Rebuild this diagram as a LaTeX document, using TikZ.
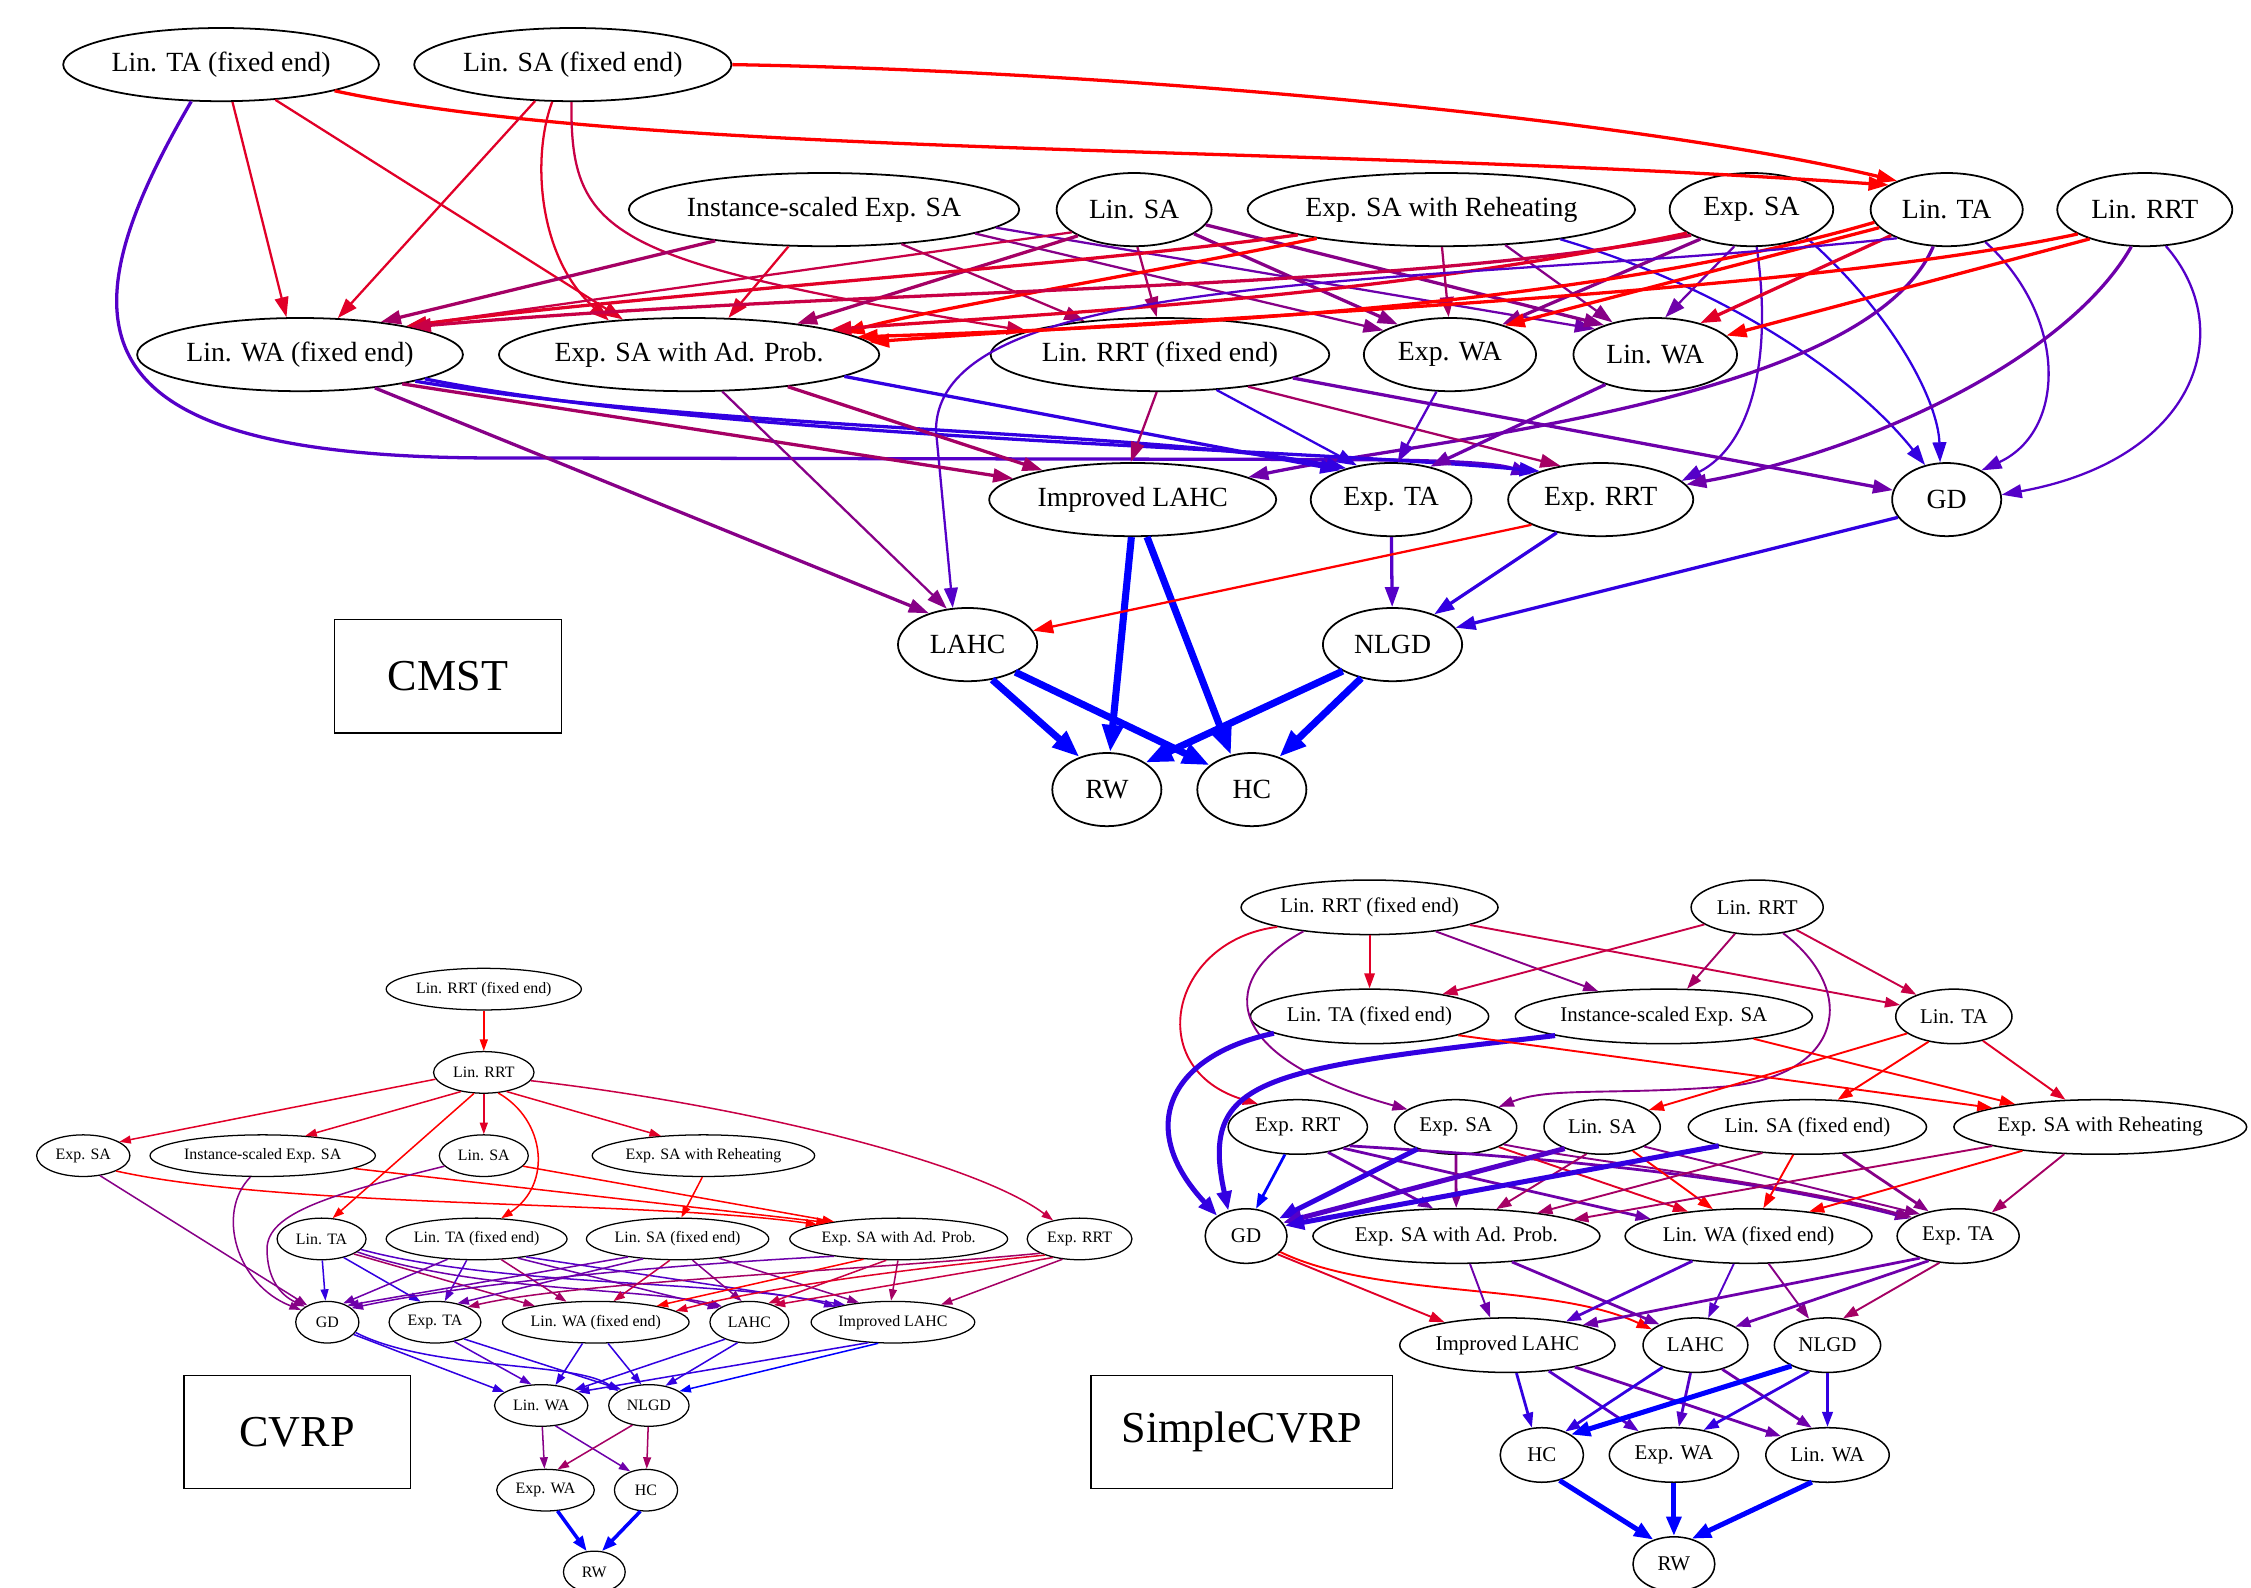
\documentclass[tikz,border=0pt]{standalone}
\usepackage{fontspec}
\setmainfont{Liberation Serif}
\usetikzlibrary{shapes.geometric, arrows.meta}
\definecolor{rb0}{RGB}{255,0,0}
\definecolor{rb1}{RGB}{225,0,40}
\definecolor{rb2}{RGB}{200,0,70}
\definecolor{rb3}{RGB}{165,0,100}
\definecolor{rb4}{RGB}{135,0,135}
\definecolor{rb5}{RGB}{110,0,170}
\definecolor{rb6}{RGB}{85,0,200}
\definecolor{rb7}{RGB}{50,0,225}
\definecolor{rb8}{RGB}{0,0,255}
\tikzset{ gv/.style = { ellipse % graph node
        , draw
        , inner sep = 0pt
        }
      , wd/.style = { minimum width = #1*0.2mm }
      , ht/.style = { minimum height = #1*0.2mm }
      , lbl/.style = { rectangle % graph name
        , draw
        , line width = 0.6pt
        , inner sep = 0pt
        , font = \fontsize{17.5}{20}\selectfont
        }
}
\begin{document}
\begin{tikzpicture}[x=0.02cm, y=-0.02cm,
        ed/.style={-{Triangle[length=2.8mm,width=1.9mm]}, line width=0.9pt},
        em/.style={ed, line width=1.3pt},
        ek/.style={-{Triangle[length=3.8mm,width=2.8mm]}, line width=2.8pt},
        ved/.style={-{Triangle[length=1.6mm,width=1.1mm]}, line width=0.6pt},
        vek/.style={-{Triangle[length=2.1mm,width=1.5mm]}, line width=1.4pt},
        sed/.style={-{Triangle[length=2.1mm,width=1.45mm]}, line width=0.75pt},
        sem/.style={sed, line width=1.1pt},
        sek/.style={-{Triangle[length=2.7mm,width=2mm]}, line width=2pt}]
    \path[use as bounding box, fill=white] (0,0) rectangle (1568,1106);

    % CMST
    \begin{scope}[font=\fontsize{11}{13}\selectfont, gv/.append style={ht=51, line width=0.7pt}]
        \node [gv, wd=220] (tafe) at (154,45) {Lin. TA (fixed end)};
        \node [gv, wd=221] (safe) at (399,45) {Lin. SA (fixed end)};
        \node [gv, wd=272] (ise) at (574,146) {Instance-scaled Exp. SA};
        \node [gv, wd=108] (lsa) at (790,146) {Lin. SA};
        \node [gv, wd=270] (eswr) at (1004,146) {Exp. SA with Reheating};
        \node [gv, wd=114] (esa) at (1220,146) {Exp. SA};
        \node [gv, wd=106] (lta) at (1356,146) {Lin. TA};
        \node [gv, wd=122] (lrrt) at (1494,146) {Lin. RRT};
        \node [gv, wd=227] (lwafe) at (209,247) {Lin. WA (fixed end)};
        \node [gv, wd=263] (esap) at (480,247) {Exp. SA with Ad. Prob.};
        \node [gv, wd=236] (lrrtfe) at (808,247) {Lin. RRT (fixed end)};
        \node [gv, wd=120] (ewa) at (1010,247) {Exp. WA};
        \node [gv, wd=114] (lwa) at (1153,247) {Lin. WA};
        \node [gv, wd=200] (ilahc) at (789,348) {Improved LAHC};
        \node [gv, wd=112] (eta) at (969,348) {Exp. TA};
        \node [gv, wd=129] (errt) at (1115,348) {Exp. RRT};
        \node [gv, wd=76] (gd) at (1356,348) {GD};
        \node [gv, wd=97] (lahc) at (674,449) {LAHC};
        \node [gv, wd=97] (nlgd) at (970,449) {NLGD};
        \node [gv, wd=76] (rw) at (771,550) {RW};
        \node [gv, wd=76] (hc) at (872,550) {HC};
        \node [lbl, wd=158, ht=79] (cmst) at (312,471) {CMST};

        \draw [ed, rb1] (tafe.-73) -- (lwafe.110);
        \draw [ed, rb1] (tafe.-33) -- (esap.152);
        \draw [em, rb0] (tafe.-13) .. controls (450,110) and (900,100) .. (lta.157);
        \draw [em, rb6] (tafe.-129) .. controls (40,230) and (50,320) .. (350,319) -- (900,320) .. controls (1000,320) and (1040,322) .. (errt.160);
        \draw [em, rb0] (safe.0) .. controls (800,50) and (1150,85) .. (lta.150);
        \draw [ed, rb1] (safe.-136) -- (lwafe.44);
        \draw [ed, rb1] (safe.-119) .. controls (370,110) and (375,180) .. (esap.157);
        \draw [ed, rb2] (safe.-92) .. controls (397,165) and (425,182) .. (lrrtfe.170);
        \draw [em, rb3] (ise.-164) -- (lwafe.22);
        \draw [ed, rb1] (ise.-134) -- (esap.43);
        \draw [ed, rb3] (ise.-24) -- (lrrtfe.156);
        \draw [ed, rb4] (ise.-9) -- (ewa.160);
        \draw [ed, rb5] (ise.-6) -- (lwa.157);
        \draw [ed, rb2] (lsa.-160) -- (lwafe.15);
        \draw [em, rb3] (lsa.-155) -- (esap.16);
        \draw [ed, rb3] (lsa.-85) -- (lrrtfe.95);
        \draw [em, rb4] (lsa.-22) -- (ewa.150);
        \draw [em, rb4] (lsa.-12) -- (lwa.150);
        \draw [ed, rb3] (eswr.-89) -- (ewa.92);
        \draw [ed, rb4] (eswr.-29) -- (lwa.143);
        \draw [ed, rb7] (eswr.-14) .. controls (1200,200) and (1290,260) .. (gd.122);
        \draw [em, rb1] (eswr.-170) .. controls (750,185) and (450,205) .. (lwafe.15);
        \draw [em, rb0] (eswr.-167) .. controls (800,190) and (650,215) .. (esap.8);
        \draw [em, rb2] (esa.-157) .. controls (950,205) and (600,200) .. (lwafe.14);
        \draw [em, rb1] (esa.-160) .. controls (950,210) and (700,220) .. (esap.10);
        \draw [em, rb4] (esa.-150) -- (ewa.30);
        \draw [ed, rb5] (esa.-115) -- (lwa.75);
        \draw [ed, rb7] (esa.-27) .. controls (1320,220) and (1350,280) .. (gd.100);
        \draw [ed, rb6] (esa.-82) .. controls (1235,250) and (1220,310) .. (errt.13);
        \draw [em, rb0] (lta.-165) -- (ewa.28);
        \draw [em, rb1] (lta.-155) -- (lwa.35);
        \draw [em, rb0] (lta.-170) .. controls (1100,215) and (800,228) .. (esap.6);
        \draw [ed, rb6] (lta.-40) .. controls (1440,220) and (1440,300) .. (gd.40);
        \draw [em, rb5] (lta.-110) .. controls (1300,280) and (1000,305) .. (ilahc.11);
        \draw [ed, rb6] (lta.-150) .. controls (1000,200) and (652,185) .. (652,300) -- (lahc.112);
        \draw [em, rb0] (lrrt.-152) -- (lwa.15);
        \draw [em, rb0] (lrrt.-160) .. controls (1250,205) and (850,220) .. (esap.4);
        \draw [em, rb5] (lrrt.-110) .. controls (1440,250) and (1300,315) .. (errt.10);
        \draw [ed, rb6] (lrrt.-60) .. controls (1560,230) and (1530,320) .. (gd.5);
        \draw [em, rb4] (lwafe.-24) -- (lahc.141);
        \draw [em, rb3] (lwafe.-16) -- (ilahc.170);
        \draw [em, rb7] (lwafe.-13) .. controls (500,300) and (800,300) .. (eta.145);
        \draw [em, rb7] (lwafe.-11) .. controls (500,305) and (900,312) .. (errt.155);
        \draw [ed, rb4] (esap.-48) -- (lahc.120);
        \draw [em, rb3] (esap.-18) -- (ilahc.162);
        \draw [em, rb7] (esap.-8) -- (eta.150);
        \draw [ed, rb3] (lrrtfe.-95) -- (ilahc.93);
        \draw [ed, rb7] (lrrtfe.-32) -- (eta.135);
        \draw [ed, rb3] (lrrtfe.-20) -- (errt.140);
        \draw [em, rb5] (lrrtfe.-10) -- (gd.170);
        \draw [ed, rb6] (ewa.-110) -- (eta.80);
        \draw [em, rb5] (lwa.-149) -- (eta.40);
        \draw [ek, rb8] (ilahc.-92) -- (rw.85);
        \draw [ek, rb8] (ilahc.-69) -- (hc.121);
        \draw [em, rb6] (eta) -- (nlgd);
        \draw [ed, rb0] (errt.-160) -- (lahc.12);
        \draw [em, rb7] (errt.-143) -- (nlgd.36);
        \draw [em, rb7] (gd.-160) -- (nlgd.15);
        \draw [ek, rb8] (lahc.-55) -- (rw.130);
        \draw [ek, rb8] (lahc.-30) -- (hc.150);
        \draw [ek, rb8] (nlgd.-152) -- (rw.35);
        \draw [ek, rb8] (nlgd.-133) -- (hc.50);
    \end{scope}

    % CVRP
    \begin{scope}[font=\fontsize{6.3}{7.5}\selectfont, gv/.append style={ht=29, line width=0.5pt}]
        \node [gv, wd=136] (vlrfe) at (337,689) {Lin. RRT (fixed end)};
        \node [gv, wd=70] (vlr) at (337,747) {Lin. RRT};
        \node [gv, wd=65] (vesa) at (58,805) {Exp. SA};
        \node [gv, wd=157] (vise) at (183,805) {Instance-scaled Exp. SA};
        \node [gv, wd=62] (vlsa) at (337,805) {Lin. SA};
        \node [gv, wd=155] (veswr) at (490,805) {Exp. SA with Reheating};
        \node [gv, wd=62] (vlta) at (224,863) {Lin. TA};
        \node [gv, wd=126] (vtafe) at (332,863) {Lin. TA (fixed end)};
        \node [gv, wd=127] (vsafe) at (472,863) {Lin. SA (fixed end)};
        \node [gv, wd=151] (vesap) at (626,863) {Exp. SA with Ad. Prob.};
        \node [gv, wd=73] (verrt) at (752,863) {Exp. RRT};
        \node [gv, wd=44] (vgd) at (228,921) {GD};
        \node [gv, wd=64] (veta) at (303,921) {Exp. TA};
        \node [gv, wd=130] (vlwafe) at (415,921) {Lin. WA (fixed end)};
        \node [gv, wd=55] (vlahc) at (522,921) {LAHC};
        \node [gv, wd=114] (vilahc) at (622,921) {Improved LAHC};
        \node [gv, wd=65] (vlwa) at (377,979) {Lin. WA};
        \node [gv, wd=56] (vnlgd) at (452,979) {NLGD};
        \node [gv, wd=68] (vewa) at (380,1038) {Exp. WA};
        \node [gv, wd=44] (vhc) at (450,1038) {HC};
        \node [gv, wd=43] (vrw) at (414,1095) {RW};
        \node [lbl, wd=158, ht=79] (cvrp) at (207,997.5) {CVRP};

        \draw [ved, rb0] (vlrfe) -- (vlr);
        \draw [ved, rb1] (vlr.-172) -- (vesa.21);
        \draw [ved, rb1] (vlr.-140) -- (vise.25);
        \draw [ved, rb1] (vlr) -- (vlsa);
        \draw [ved, rb1] (vlr.-40) -- (veswr.155);
        \draw [ved, rb0] (vlr.-115) -- (vlta.62);
        \draw [ved, rb0] (vlr.-55) .. controls (380,780) and (385,825) .. (vtafe.40);
        \draw [ved, rb2] (vlr.-10) .. controls (520,770) and (680,810) .. (verrt.145);
        \draw [ved, rb4] (vesa.-50) -- (vgd.140);
        \draw [ved, rb0] (vesa.-25) .. controls (200,842) and (450,836) .. (vesap.170);
        \draw [ved, rb4] (vise.-120) .. controls (150,845) and (165,895) .. (vgd.155);
        \draw [ved, rb0] (vise.-8) -- (vesap.167);
        \draw [ved, rb4] (vlsa.-165) .. controls (230,832) and (186,845) .. (186,870) .. controls (186,890) and (195,902) .. (vgd.145);
        \draw [ved, rb0] (vlsa.-15) -- (vesap.165);
        \draw [ved, rb0] (veswr.-93) -- (vsafe.80);
        \draw [ved, rb7] (vlta.-88) -- (vgd.95);
        \draw [ved, rb7] (vlta.-40) -- (veta.125);
        \draw [ved, rb3] (vlta.-25) -- (vlwafe.165);
        \draw [ved, rb5] (vlta.-20) .. controls (330,900) and (450,897) .. (vlahc.150);
        \draw [ved, rb6] (vlta.-15) .. controls (350,897) and (520,892) .. (vilahc.165);
        \draw [ved, rb5] (vtafe.-145) -- (vgd.50);
        \draw [ved, rb6] (vtafe.-115) -- (veta.65);
        \draw [ved, rb3] (vtafe.-40) -- (vlwafe.145);
        \draw [ved, rb5] (vtafe.-25) -- (vlahc.155);
        \draw [ved, rb6] (vtafe.-20) -- (vilahc.160);
        \draw [ved, rb5] (vsafe.-160) -- (vgd.40);
        \draw [ved, rb5] (vsafe.-150) -- (veta.40);
        \draw [ved, rb2] (vsafe.-110) -- (vlwafe.50);
        \draw [ved, rb4] (vsafe.-55) -- (vlahc.110);
        \draw [ved, rb4] (vsafe.-25) -- (vilahc.150);
        \draw [ved, rb5] (vesap.-165) .. controls (480,880) and (330,893) .. (vgd.30);
        \draw [ved, rb0] (vesap.-150) -- (vlwafe.15);
        \draw [ved, rb2] (vesap.-120) -- (vlahc.45);
        \draw [ved, rb3] (vesap.-92) -- (vilahc.95);
        \draw [ved, rb3] (verrt.-160) .. controls (600,885) and (400,893) .. (veta.25);
        \draw [ved, rb1] (verrt.-155) .. controls (650,882) and (540,895) .. (vlwafe.8);
        \draw [ved, rb2] (verrt.-145) -- (vlahc.35);
        \draw [ved, rb3] (verrt.-130) -- (vilahc.20);
        \draw [ved, rb7] (vgd.-25) -- (vlwa.160);
        \draw [ved, rb7] (vgd.-20) .. controls (300,955) and (400,948) .. (vnlgd.155);
        \draw [ved, rb6] (veta.-45) -- (vlwa.115);
        \draw [ved, rb7] (veta.-30) -- (vnlgd.150);
        \draw [ved, rb7] (vlwafe.-122) -- (vlwa.55);
        \draw [ved, rb7] (vlwafe.-60) -- (vnlgd.110);
        \draw [ved, rb7] (vlahc.-145) -- (vlwa.25);
        \draw [ved, rb7] (vlahc.-120) -- (vnlgd.50);
        \draw [ved, rb7] (vilahc.-140) -- (vlwa.20);
        \draw [ved, rb8] (vilahc.-125) -- (vnlgd.25);
        \draw [ved, rb4] (vlwa) -- (vewa);
        \draw [ved, rb5] (vlwa.-55) -- (vhc.130);
        \draw [ved, rb3] (vnlgd.-130) -- (vewa.60);
        \draw [ved, rb3] (vnlgd) -- (vhc);
        \draw [vek, rb8] (vewa.-60) -- (vrw.110);
        \draw [vek, rb8] (vhc.-105) -- (vrw.70);
    \end{scope}

    % SimpleCVRP
    \begin{scope}[font=\fontsize{8.3}{10}\selectfont, gv/.append style={ht=38, line width=0.6pt}]
        \node [gv, wd=179] (sLRfe) at (954,632) {Lin. RRT (fixed end)};
        \node [gv, wd=92] (sLR) at (1224,632) {Lin. RRT};
        \node [gv, wd=166] (sTAfe) at (954,708) {Lin. TA (fixed end)};
        \node [gv, wd=207] (sISE) at (1159,708) {Instance-scaled Exp. SA};
        \node [gv, wd=81] (sLTA) at (1361,708) {Lin. TA};
        \node [gv, wd=97] (sERRT) at (904,785) {Exp. RRT};
        \node [gv, wd=85] (sESA) at (1014,785) {Exp. SA};
        \node [gv, wd=81] (sLSA) at (1116,785) {Lin. SA};
        \node [gv, wd=166] (sSAfe) at (1259,785) {Lin. SA (fixed end)};
        \node [gv, wd=204] (sESWR) at (1463,785) {Exp. SA with Reheating};
        \node [gv, wd=57] (sGD) at (868,861) {GD};
        \node [gv, wd=198] (sESAP) at (1014.5,861) {Exp. SA with Ad. Prob.};
        \node [gv, wd=172] (sLWAfe) at (1218,861) {Lin. WA (fixed end)};
        \node [gv, wd=85] (sETA) at (1364,861) {Exp. TA};
        \node [gv, wd=150] (sILAHC) at (1050,937) {Improved LAHC};
        \node [gv, wd=73] (sLAHC) at (1181,937) {LAHC};
        \node [gv, wd=74] (sNLGD) at (1273,937) {NLGD};
        \node [gv, wd=58] (sHC) at (1074,1013.5) {HC};
        \node [gv, wd=90] (sEWA) at (1166,1013.5) {Exp. WA};
        \node [gv, wd=86] (sLWA) at (1273,1013.5) {Lin. WA};
        \node [gv, wd=57] (sRW) at (1166,1089.5) {RW};
        \node [lbl, wd=210, ht=79] (scvrp) at (865,997.5) {SimpleCVRP};

        \draw [sed, rb1] (sLRfe) -- (sTAfe);
        \draw [sed, rb4] (sLRfe.-20) -- (sISE.159);
        \draw [sed, rb2] (sLRfe.-10) -- (sLTA.168);
        \draw [sed, rb1] (sLRfe.-168) .. controls (815,655) and (795,745) .. (sERRT.150);
        \draw [sed, rb4] (sLRfe.-160) .. controls (850,680) and (845,735) .. (sESA.160);
        \draw [sed, rb2] (sLR.-162) -- (sTAfe.17);
        \draw [sed, rb3] (sLR.-130) -- (sISE.50);
        \draw [sed, rb2] (sLR.-30) -- (sLTA.150);
        \draw [sed, rb4] (sLR.-45) .. controls (1295,690) and (1285,750) .. (1200,757) .. controls (1120,763) and (1080,757) .. (sESA.25);
        \draw [sek, rb7] (sTAfe.-170) .. controls (815,735) and (790,785) .. (sGD.145);
        \draw [sek, rb7] (sISE.-170) .. controls (880,745) and (835,750) .. (sGD.125);
        \draw [sed, rb0] (sTAfe.-12) -- (sESWR.170);
        \draw [sed, rb0] (sISE.-14) -- (sESWR.165);
        \draw [sed, rb0] (sLTA.-160) -- (sLSA.20);
        \draw [sed, rb0] (sLTA.-135) -- (sSAfe.42);
        \draw [sed, rb1] (sLTA.-40) -- (sESWR.142);
        \draw [sem, rb8] (sERRT.-115) -- (sGD.70);
        \draw [sem, rb5] (sERRT.-40) -- (sESAP.130);
        \draw [sem, rb5] (sERRT.-25) -- (sLWAfe.170);
        \draw [sem, rb5] (sERRT.-20) .. controls (1050,805) and (1200,815) .. (sETA.160);
        \draw [sek, rb7] (sESA.-150) -- (sGD.28);
        \draw [sem, rb4] (sESA) -- (sESAP);
        \draw [sed, rb1] (sESA.-25) -- (sLWAfe.158);
        \draw [sed, rb4] (sESA.-20) .. controls (1100,808) and (1250,825) .. (sETA.158);
        \draw [sek, rb6] (sLSA.-150) -- (sGD.20);
        \draw [sed, rb3] (sLSA.-120) -- (sESAP.34);
        \draw [sed, rb0] (sLSA.-38) -- (sLWAfe.143);
        \draw [sed, rb4] (sLSA.-25) -- (sETA.150);
        \draw [sek, rb7] (sSAfe.-168) -- (sGD.15);
        \draw [sed, rb3] (sSAfe.-150) -- (sESAP.16);
        \draw [sed, rb0] (sSAfe.-117) -- (sLWAfe.62);
        \draw [sem, rb4] (sSAfe.-37) -- (sETA.140);
        \draw [sed, rb3] (sESWR.-170) -- (sESAP.8);
        \draw [sed, rb0] (sESWR.-163) -- (sLWAfe.22);
        \draw [sed, rb3] (sESWR.-143) -- (sETA.35);
        \draw [sed, rb1] (sGD.-30) -- (sILAHC.160);
        \draw [sed, rb0] (sGD.-25) .. controls (960,905) and (1080,893) .. (sLAHC.160);
        \draw [sed, rb5] (sESAP.-64) -- (sILAHC.122);
        \draw [sem, rb5] (sESAP.-25) -- (sLAHC.150);
        \draw [sem, rb6] (sLWAfe.-156) -- (sILAHC.22);
        \draw [sed, rb6] (sLWAfe.-118) -- (sLAHC.65);
        \draw [sed, rb4] (sLWAfe.-54) -- (sNLGD.125);
        \draw [sem, rb5] (sETA.-150) -- (sILAHC.15);
        \draw [sem, rb5] (sETA.-140) -- (sLAHC.25);
        \draw [sed, rb3] (sETA.-125) -- (sNLGD.60);
        \draw [sem, rb7] (sILAHC.-72) -- (sHC.110);
        \draw [sem, rb6] (sILAHC.-32) -- (sEWA.146);
        \draw [sem, rb5] (sILAHC.-18) -- (sLWA.158);
        \draw [sem, rb7] (sLAHC.-146) -- (sHC.45);
        \draw [sem, rb6] (sLAHC.-100) -- (sEWA.80);
        \draw [sem, rb5] (sLAHC.-42) -- (sLWA.120);
        \draw [sek, rb8] (sNLGD.-150) -- (sHC.35);
        \draw [sem, rb7] (sNLGD.-125) -- (sEWA.40);
        \draw [sem, rb7] (sNLGD) -- (sLWA);
        \draw [sek, rb8] (sHC.-55) -- (sRW.130);
        \draw [sek, rb8] (sEWA) -- (sRW);
        \draw [sek, rb8] (sLWA.-120) -- (sRW.55);
    \end{scope}
\end{tikzpicture}
\end{document}
